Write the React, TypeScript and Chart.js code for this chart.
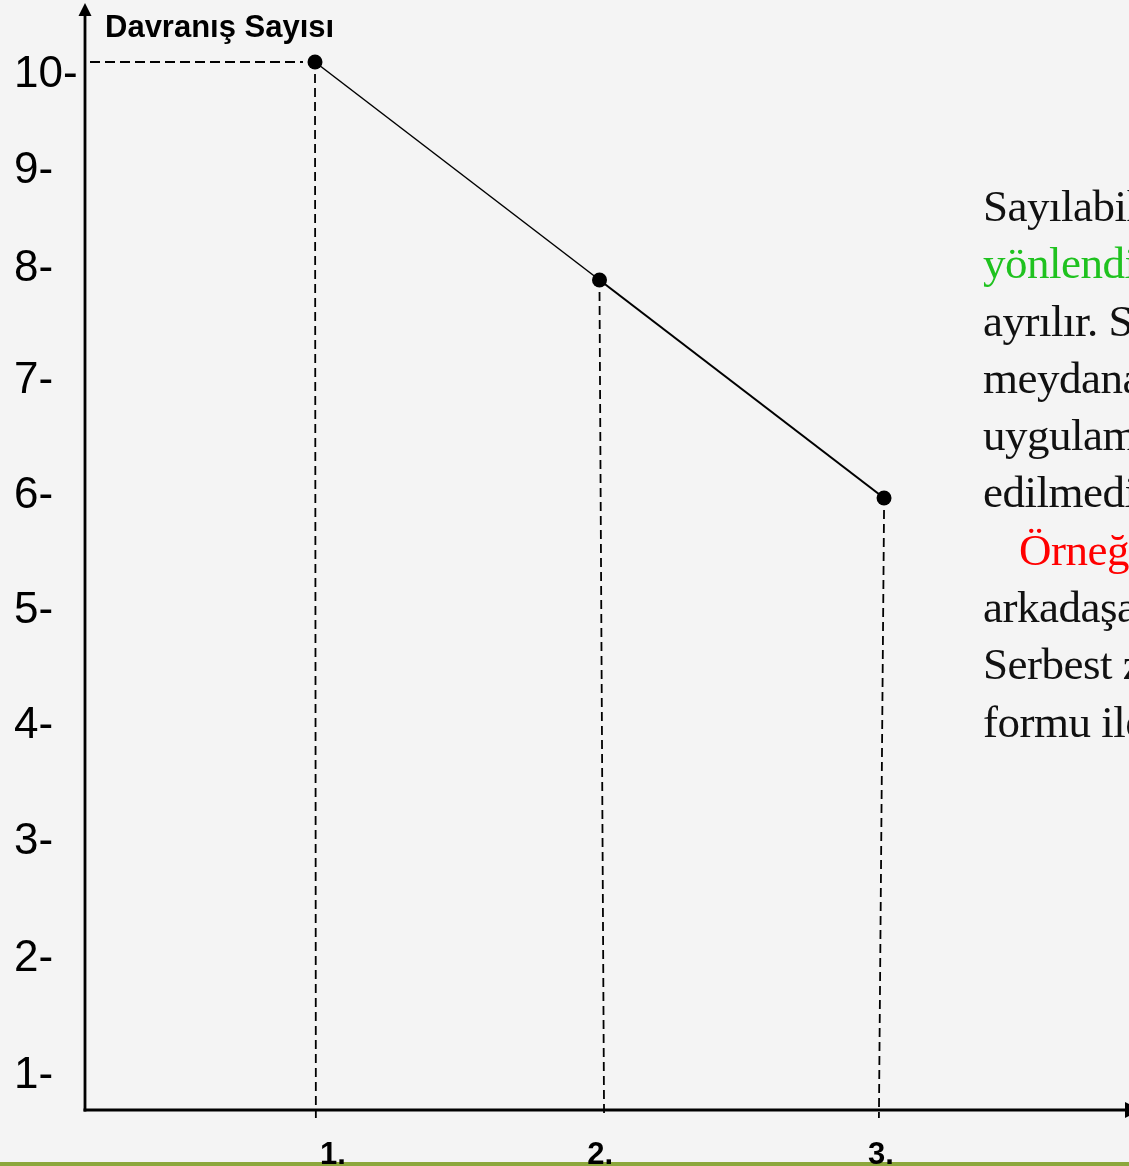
import React, { useEffect, useRef } from "react";
import { Chart, registerables } from "chart.js";

Chart.register(...registerables);

// ---- data ----
const categories = [1, 2, 3];
const behaviourCounts = [10, 8, 6];
const segmentWidths = [1.5, 2.1];
const dropFoot = [1.003, 2.016, 2.982];
const yTickLabels = ["10-", "9-", "8-", "7-", "6-", "5-", "4-", "3-", "2-", "1-"];
const yTickPositions = [9.917, 9.037, 8.138, 7.11, 6.055, 5.0, 3.945, 2.881, 1.807, 0.734];
const xTickLabels = ["1.", "2.", "3."];
const xTickPositions = [1.063, 2.002, 2.989];
const yTitle = "Davranış Sayısı";

const sideLines: { text: string; color: string; indent?: boolean }[] = [
  { text: "Sayılabilir", color: "#111" },
  { text: "yönlendirilmiş", color: "#1fc21f" },
  { text: "ayrılır. Sayılabilir", color: "#111" },
  { text: "meydana", color: "#111" },
  { text: "uygulama", color: "#111" },
  { text: "edilmedi", color: "#111" },
  { text: "Örneğin", color: "#ff0000", indent: true },
  { text: "arkadaşa", color: "#111" },
  { text: "Serbest zaman", color: "#111" },
  { text: "formu ile", color: "#111" },
];

const SANS = "'Liberation Sans', Arial, sans-serif";
const W = 1129;
const H = 1166;

const overlayPlugin = {
  id: "overlay",
  beforeDatasetsDraw(chart: any) {
    const { ctx, chartArea, scales } = chart;
    const xs = scales.x;
    const ys = scales.y;
    ctx.save();
    ctx.strokeStyle = "#000";
    // horizontal guide for first point
    const px0 = xs.getPixelForValue(categories[0]);
    const py0 = ys.getPixelForValue(behaviourCounts[0]);
    ctx.setLineDash([10, 5]);
    ctx.lineWidth = 2;
    ctx.beginPath();
    ctx.moveTo(chartArea.left + 5, py0);
    ctx.lineTo(px0 - 12, py0);
    ctx.stroke();
    // vertical drop guides
    ctx.setLineDash([9, 5]);
    ctx.lineWidth = 1.8;
    categories.forEach((c, i) => {
      const px = xs.getPixelForValue(c);
      const py = ys.getPixelForValue(behaviourCounts[i]);
      const fx = xs.getPixelForValue(dropFoot[i]);
      ctx.beginPath();
      ctx.moveTo(px, py + 12);
      ctx.lineTo(fx, chartArea.bottom + 8);
      ctx.stroke();
    });
    ctx.setLineDash([]);
    // axes
    ctx.lineWidth = 2.8;
    ctx.beginPath();
    ctx.moveTo(chartArea.left, chartArea.bottom + 1.5);
    ctx.lineTo(chartArea.left, chartArea.top + 8);
    ctx.stroke();
    ctx.beginPath();
    ctx.moveTo(chartArea.left - 1.5, chartArea.bottom);
    ctx.lineTo(chartArea.right, chartArea.bottom);
    ctx.stroke();
    ctx.fillStyle = "#000";
    // y arrow
    ctx.beginPath();
    ctx.moveTo(chartArea.left, chartArea.top - 2);
    ctx.lineTo(chartArea.left - 6.5, chartArea.top + 11);
    ctx.lineTo(chartArea.left + 6.5, chartArea.top + 11);
    ctx.closePath();
    ctx.fill();
    // x arrow (cut at right edge)
    ctx.beginPath();
    ctx.moveTo(chartArea.right - 4, chartArea.bottom - 8);
    ctx.lineTo(chartArea.right + 12, chartArea.bottom);
    ctx.lineTo(chartArea.right - 4, chartArea.bottom + 8);
    ctx.closePath();
    ctx.fill();
    ctx.restore();
  },
  afterDraw(chart: any) {
    const { ctx, chartArea, scales, width } = chart;
    const xs = scales.x;
    const ys = scales.y;
    ctx.save();
    // bottom green rule
    ctx.fillStyle = "#8ca73c";
    ctx.fillRect(0, chartArea.bottom + 52, width, 4);
    ctx.fillStyle = "#000";
    // y tick labels
    ctx.font = `44px ${SANS}`;
    ctx.textAlign = "left";
    ctx.textBaseline = "alphabetic";
    yTickLabels.forEach((t, i) => {
      const y = ys.getPixelForValue(yTickPositions[i]);
      ctx.fillText(t, 14, y + 16);
    });
    // y title
    ctx.font = `bold 31px ${SANS}`;
    ctx.fillText(yTitle, chartArea.left + 20, 37);
    // x tick labels (drawn over the green rule)
    ctx.font = `bold 31px ${SANS}`;
    ctx.textAlign = "center";
    xTickLabels.forEach((t, i) => {
      const x = xs.getPixelForValue(xTickPositions[i]);
      ctx.fillText(t, x, chartArea.bottom + 54);
    });
    ctx.restore();
  },
};

export default function App() {
  const ref = useRef<HTMLCanvasElement | null>(null);
  useEffect(() => {
    if (!ref.current) return;
    const chart = new Chart(ref.current, {
      type: "line",
      data: {
        datasets: [
          {
            data: categories.map((c, i) => ({ x: c, y: behaviourCounts[i] })),
            borderColor: "#000",
            borderWidth: 2,
            pointRadius: 7.5,
            pointBackgroundColor: "#000",
            pointBorderWidth: 0,
            pointHoverRadius: 7.5,
            tension: 0,
            fill: false,
            clip: false as any,
            segment: {
              borderWidth: (c: any) => segmentWidths[c.p0DataIndex] ?? 2,
            },
          },
        ],
      },
      options: {
        animation: false,
        responsive: false,
        maintainAspectRatio: false,
        devicePixelRatio: 1,
        events: [],
        layout: { autoPadding: false, padding: { left: 85, top: 5, right: 0, bottom: 56 } },
        plugins: { legend: { display: false }, tooltip: { enabled: false } },
        scales: {
          x: { type: "linear", min: 0.1916, max: 3.861, display: false },
          y: { type: "linear", min: 0.385, max: 10.523, display: false },
        },
      } as any,
      plugins: [overlayPlugin],
    });
    return () => chart.destroy();
  }, []);

  return (
    <div
      style={{
        position: "fixed",
        left: 0,
        top: 0,
        width: W,
        height: H,
        overflow: "hidden",
        background: "#f4f4f4",
      }}
    >
      <canvas
        ref={ref}
        width={W}
        height={H}
        style={{ position: "absolute", left: 0, top: 0, width: W, height: H }}
      />
      <div
        style={{
          position: "absolute",
          left: 983,
          top: 223 - 45,
          width: 600,
          fontFamily: "'Liberation Serif', 'Times New Roman', serif",
          fontSize: 45,
          letterSpacing: "-0.5px",
          lineHeight: "57.3px",
          whiteSpace: "nowrap",
        }}
      >
        {sideLines.map((l, i) => (
          <div key={i} style={{ color: l.color, paddingLeft: l.indent ? 36 : 0 }}>
            {l.text}
          </div>
        ))}
      </div>
    </div>
  );
}
